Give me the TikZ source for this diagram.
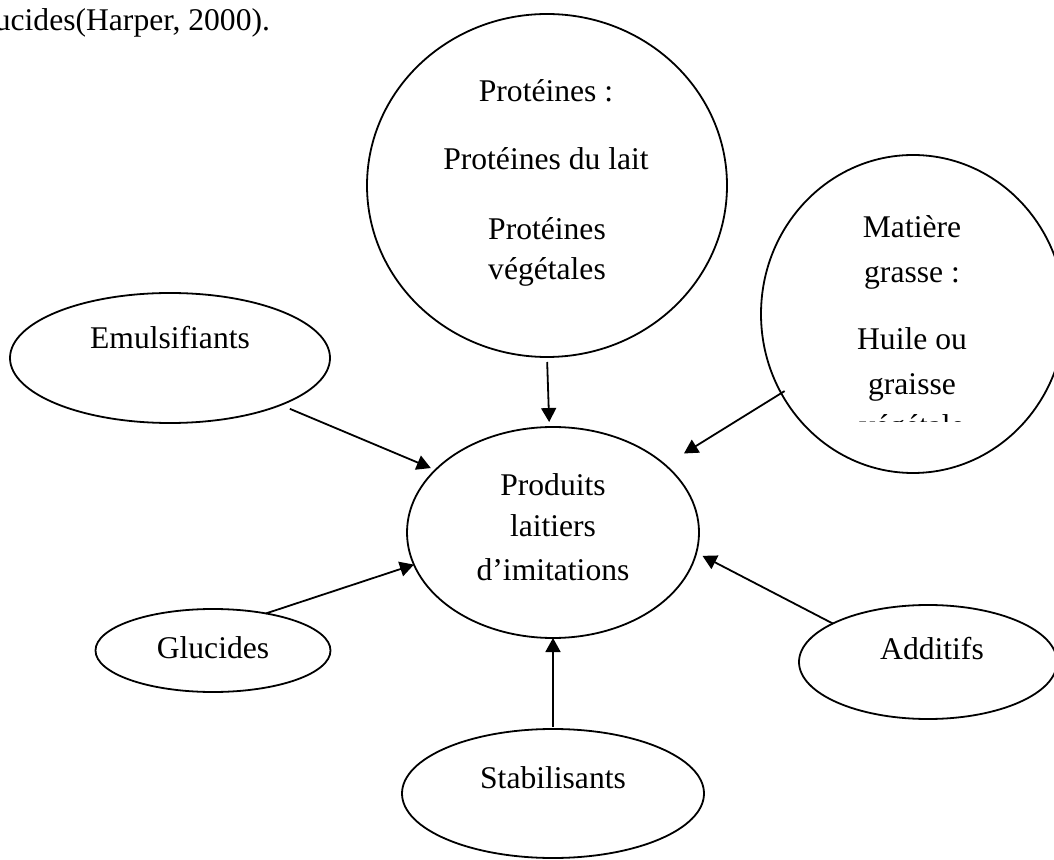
\documentclass[tikz,border=0pt]{standalone}
\usepackage{fontspec}
\setmainfont{Liberation Serif}[Ligatures={NoCommon}]
\usetikzlibrary{arrows.meta,shapes.geometric}
\tikzset{
  ell/.style={draw=black, line width=0.9pt, ellipse, inner sep=0pt, outer sep=0pt},
  txt/.style={anchor=base, inner sep=0pt, outer sep=0pt, font=\fontsize{15.8}{20}\selectfont},
  arr/.style={draw=black, line width=0.9pt, -{Triangle[length=7pt,width=7.5pt]}}
}
\begin{document}
\begin{tikzpicture}[x=0.5pt,y=-0.5pt]
\clip (0,0) rectangle (1054,860);
\fill[white] (0,0) rectangle (1054,860);

% header fragment
\node[txt, anchor=base east] (hdr) at (270,31) {ucides(Harper, 2000).};

% ellipses
\node[ell, minimum width=180pt, minimum height=171.5pt] (prot) at (547,185.5) {};
\node[ell, minimum width=152pt, minimum height=159pt] (mat) at (913,314) {};
\node[ell, minimum width=160pt, minimum height=65pt] (emul) at (170,358) {};
\node[ell, minimum width=146pt, minimum height=105.5pt] (prod) at (553,532.5) {};
\node[ell, minimum width=117.5pt, minimum height=41.5pt] (gluc) at (213,650.5) {};
\node[ell, minimum width=151pt, minimum height=64.5pt] (stab) at (553,793.5) {};
\node[ell, minimum width=129pt, minimum height=57pt] (add) at (928,662) {};

% texts
\node[txt] (protA) at (546,102) {Protéines :};
\node[txt] (protB) at (546,170) {Protéines du lait};
\node[txt] (protC) at (547,240) {Protéines};
\node[txt] (protD) at (547,280) {végétales};

\node[txt] (matA) at (912,238) {Matière};
\node[txt] (matB) at (912,283) {grasse :};
\node[txt] (matC) at (912,350) {Huile ou};
\node[txt] (matD) at (912,395) {graisse};
\begin{scope}
  \clip (800,380) rectangle (1020,422);
  \node[txt] (matE) at (912,437) {végétale};
\end{scope}

\node[txt] (prodA) at (553,495) {Produits};
\node[txt] (prodB) at (553,537) {laitiers};
\node[txt] (prodC) at (553,580) {d’imitations};

\node[txt] (emulT) at (170,349) {Emulsifiants};
\node[txt] (glucT) at (213,658) {Glucides};
\node[txt] (stabT) at (553,788) {Stabilisants};
\node[txt] (addT) at (932,659) {Additifs};

% connectors
\draw[arr, shorten <=2.5pt, shorten >=2.5pt] (prot.-90) -- (prod.92);
\draw[arr, shorten <=5pt, shorten >=2.5pt] (emul.-23) -- (prod.152);
\draw[arr] (gluc.35) -- (prod.193.4);
\draw[arr, shorten <=1pt] (stab.north) -- (prod.south);
\draw[arr, shorten >=3.5pt] (add.158) -- (prod.-8.7);
\draw[arr, shorten <=-2pt, shorten >=11pt] (mat.211.6) -- (prod.31.6);
\end{tikzpicture}
\end{document}
